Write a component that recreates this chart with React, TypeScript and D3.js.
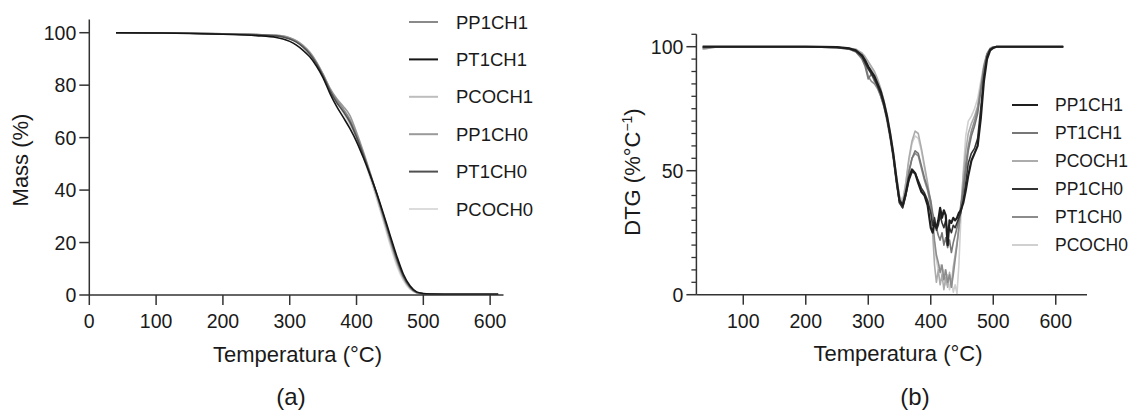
import React from "react";
import * as d3 from "d3";

// ---------- DATA ----------
const seriesNames = ["PP1CH1", "PT1CH1", "PCOCH1", "PP1CH0", "PT1CH0", "PCOCH0"];

// TGA (a)
const tgaTemps = [40, 100, 150, 200, 250, 280, 290, 300, 310, 320, 330, 340, 350, 360, 370, 380, 390, 400, 410, 420, 430, 440, 450, 460, 470, 480, 490, 500, 510, 550, 612];
const tgaPP1CH1 = [100, 99.9, 99.8, 99.6, 99.3, 98.9, 98.5, 97.8, 96.6, 94.8, 92.2, 88.5, 83.8, 78.5, 74.5, 71.0, 67.0, 61.0, 54.0, 46.5, 38.5, 30.0, 21.5, 13.5, 7.0, 3.0, 1.0, 0.5, 0.4, 0.3, 0.3];
const tgaPT1CH1 = [100, 99.9, 99.7, 99.4, 98.9, 98.2, 97.6, 96.7, 95.3, 93.3, 90.8, 87.3, 82.8, 77.0, 72.0, 67.8, 63.5, 58.5, 52.5, 46.0, 39.0, 31.2, 23.0, 15.0, 8.0, 3.5, 1.2, 0.6, 0.4, 0.3, 0.3];
const tgaPCOCH1 = [100, 99.9, 99.8, 99.6, 99.3, 99.0, 98.7, 98.0, 96.9, 95.0, 92.4, 88.7, 84.0, 78.6, 74.2, 70.0, 65.5, 60.0, 53.0, 45.5, 37.5, 29.0, 20.3, 12.3, 6.2, 2.5, 0.9, 0.4, 0.3, 0.3, 0.3];
const tgaPP1CH0 = [100, 99.9, 99.8, 99.6, 99.3, 99.0, 98.7, 98.1, 97.0, 95.2, 92.6, 88.9, 84.2, 79.0, 75.0, 72.0, 68.5, 62.0, 54.8, 47.0, 38.8, 30.2, 21.5, 13.3, 6.8, 2.8, 0.9, 0.5, 0.4, 0.3, 0.3];
const tgaPT1CH0 = [100, 99.9, 99.8, 99.5, 99.2, 98.8, 98.4, 97.6, 96.4, 94.5, 91.9, 88.2, 83.5, 78.0, 73.5, 70.0, 66.0, 60.2, 53.6, 46.3, 38.7, 30.6, 22.2, 14.0, 7.3, 3.1, 1.0, 0.5, 0.4, 0.3, 0.3];
const tgaPCOCH0 = [100, 99.9, 99.8, 99.6, 99.3, 99.0, 98.7, 98.0, 96.8, 94.9, 92.3, 88.6, 83.9, 78.3, 73.8, 69.5, 65.0, 59.5, 52.5, 45.0, 36.8, 28.2, 19.3, 11.3, 5.6, 2.2, 0.8, 0.4, 0.3, 0.3, 0.3];

// DTG (b)
const dtgTemps = [35, 60, 100, 150, 200, 250, 270, 280, 290, 295, 300, 305, 310, 315, 320, 325, 330, 335, 340, 345, 350, 355, 360, 365, 370, 375, 380, 385, 390, 395, 400, 403, 406, 409, 412, 415, 418, 421, 424, 427, 430, 433, 436, 439, 442, 445, 448, 452, 456, 460, 465, 470, 475, 480, 485, 490, 495, 500, 505, 510, 560, 612];
const dtgPP1CH1 = [100, 100, 100, 100, 100, 99.8, 99.3, 98.5, 96.5, 94.5, 92, 90, 88, 85, 82, 77.5, 72, 65, 57, 47, 38, 36, 41, 47, 50.5, 49, 45, 41.5, 40, 36, 27, 25, 29, 27, 30, 35, 31, 34, 32, 20, 30, 29, 31, 30, 31, 33, 34, 37, 42, 48, 54, 57, 60, 71, 86, 95, 98.5, 99.5, 100, 100, 100, 100];
const dtgPT1CH1 = [99.5, 100, 100, 100, 100, 99.6, 99, 98, 95, 92, 87, 89, 86, 84, 80, 76, 71, 64, 56, 46, 37, 35, 40, 49, 55, 58, 57, 52, 47, 43, 38, 33, 30, 27, 24, 22, 25, 20, 23, 19, 22, 17, 21, 24, 27, 30, 36, 42, 50, 58, 64, 68, 73, 82, 91, 97, 99, 99.8, 100, 100, 100, 100];
const dtgPCOCH1 = [99, 100, 100, 100, 100, 99.7, 99.4, 99, 97.5, 96, 94, 92, 90, 87, 83, 78, 72, 65, 57, 48, 39, 37, 45, 55, 62, 66, 65, 59, 52, 45, 37, 25, 12, 5, 10, 4, 8, 2, 7, 3, 9, 4, 11, 16, 21, 27, 35, 48, 58, 65, 69, 72, 76, 84, 92, 97, 99, 99.8, 100, 100, 100, 100];
const dtgPP1CH0 = [100, 100, 100, 100, 100, 99.8, 99.2, 98.3, 96, 93.5, 91, 89, 87, 84, 81, 76.5, 71, 64, 56, 46, 37, 35, 40, 46, 49.5, 49, 46, 43, 41, 38, 33, 28, 31, 26, 28, 32, 29, 27, 30, 24, 27, 25, 28, 27, 29, 31, 33, 38, 45, 53, 57, 59, 63, 75, 88, 96, 99, 99.6, 100, 100, 100, 100];
const dtgPT1CH0 = [99.5, 100, 100, 100, 100, 99.6, 99, 98, 95.5, 93, 88, 86, 85, 83, 80, 76, 70, 63, 55, 45, 37, 36, 42, 50, 55, 57, 56, 51, 46, 42, 36, 30, 22, 16, 13, 9, 12, 6, 10, 5, 8, 3, 8, 14, 20, 27, 34, 44, 53, 60, 66, 70, 75, 83, 92, 97, 99.3, 100, 100, 100, 100, 100];
const dtgPCOCH0 = [99, 100, 100, 100, 100, 99.7, 99.4, 99, 97, 95.5, 94, 91.5, 89, 86, 83, 78.5, 73, 66, 58, 48, 40, 38, 45, 54, 61, 64, 63, 58, 51, 44, 36, 28, 20, 14, 10, 12, 7, 10, 4, 8, 2, 6, 1, 4, 0.5, 12, 30, 50, 64, 70, 72, 75, 79, 86, 93, 97.5, 99.4, 100, 100, 100, 100, 100];

const tgaXTicks = [0, 100, 200, 300, 400, 500, 600];
const tgaYTicks = [0, 20, 40, 60, 80, 100];
const dtgXTicks = [100, 200, 300, 400, 500, 600];
const dtgYTicks = [0, 50, 100];
const dtgYMinor = [5, 10, 15, 20, 25, 30, 35, 40, 45, 55, 60, 65, 70, 75, 80, 85, 90, 95, 105];

const tgaColors = ["#8a8a8a", "#151515", "#bdbdbd", "#9a9a9a", "#505050", "#dcdcdc"];
const dtgColors = ["#1e1e1e", "#777777", "#acacac", "#333333", "#8c8c8c", "#d0d0d0"];

// ---------- RENDER ----------
const FONT = "'Liberation Sans', Arial, Helvetica, sans-serif";
const AX = "#333";
const TXT = "#1a1a1a";

export default function App() {
  const xA = d3.scaleLinear().domain([0, 620]).range([89.3, 503.5]);
  const yA = d3.scaleLinear().domain([0, 105]).range([295, 19.6]);
  const xB = d3.scaleLinear().domain([25, 650]).range([696.4, 1087]);
  const yB = d3.scaleLinear().domain([0, 105]).range([294.7, 34.3]);

  const tgaSeries = [tgaPP1CH1, tgaPT1CH1, tgaPCOCH1, tgaPP1CH0, tgaPT1CH0, tgaPCOCH0];
  const dtgSeries = [dtgPP1CH1, dtgPT1CH1, dtgPCOCH1, dtgPP1CH0, dtgPT1CH0, dtgPCOCH0];

  const lineA = d3
    .line<[number, number]>()
    .x((d) => xA(d[0]))
    .y((d) => yA(d[1]))
    .curve(d3.curveMonotoneX);
  const lineB = d3
    .line<[number, number]>()
    .x((d) => xB(d[0]))
    .y((d) => yB(d[1]))
    .curve(d3.curveLinear);

  const tgaDrawOrder = [5, 2, 3, 0, 4, 1];
  const dtgDrawOrder = [5, 2, 4, 1, 3, 0];

  return (
    <svg
      width={1130}
      height={415}
      style={{ position: "absolute", left: 0, top: 0, background: "#fff" }}
      fontFamily={FONT}
    >
      <rect x={0} y={0} width={1130} height={415} fill="#fff" />

      {/* ===== Chart (a) ===== */}
      <g>
        {tgaDrawOrder.map((i) => (
          <path
            key={"a" + i}
            d={lineA(tgaTemps.map((t, k) => [t, tgaSeries[i][k]] as [number, number])) || ""}
            fill="none"
            stroke={tgaColors[i]}
            strokeWidth={1.6}
          />
        ))}
        <line x1={xA(0)} x2={xA(0)} y1={yA(105)} y2={yA(0)} stroke={AX} strokeWidth={1.5} />
        <line x1={xA(0)} x2={xA(620)} y1={yA(0)} y2={yA(0)} stroke={AX} strokeWidth={1.5} />
        {tgaYTicks.map((v) => (
          <g key={"ay" + v}>
            <line x1={xA(0) - 10} x2={xA(0)} y1={yA(v)} y2={yA(v)} stroke={AX} strokeWidth={1.5} />
            <text x={xA(0) - 13} y={yA(v)} textAnchor="end" dominantBaseline="central" fontSize={19.5} fill={TXT}>
              {v}
            </text>
          </g>
        ))}
        {tgaXTicks.map((v) => (
          <g key={"ax" + v}>
            <line x1={xA(v)} x2={xA(v)} y1={yA(0)} y2={yA(0) + 10} stroke={AX} strokeWidth={1.5} />
            <text x={xA(v)} y={328} textAnchor="middle" fontSize={19.5} fill={TXT}>
              {v}
            </text>
          </g>
        ))}
        <text transform={`translate(28,160) rotate(-90)`} textAnchor="middle" fontSize={22} fill={TXT}>
          Mass (%)
        </text>
        <text x={297.5} y={362} textAnchor="middle" fontSize={22} fill={TXT}>
          Temperatura (°C)
        </text>
        <text x={291} y={405} textAnchor="middle" fontSize={24} fill={TXT}>
          (a)
        </text>
        {seriesNames.map((n, i) => {
          const cy = 22 + i * 37.4;
          return (
            <g key={"la" + n}>
              <line x1={409} x2={438} y1={cy} y2={cy} stroke={tgaColors[i]} strokeWidth={2} />
              <text x={456} y={cy} dominantBaseline="central" fontSize={18.5} fill={TXT}>
                {n}
              </text>
            </g>
          );
        })}
      </g>

      {/* ===== Chart (b) ===== */}
      <g>
        {dtgDrawOrder.map((i) => (
          <path
            key={"b" + i}
            d={lineB(dtgTemps.map((t, k) => [t, dtgSeries[i][k]] as [number, number])) || ""}
            fill="none"
            stroke={dtgColors[i]}
            strokeWidth={i === 0 ? 2.2 : 1.6}
            strokeLinejoin="round"
          />
        ))}
        <line x1={xB(25)} x2={xB(25)} y1={yB(105)} y2={yB(0)} stroke={AX} strokeWidth={1.5} />
        <line x1={xB(25)} x2={xB(650)} y1={yB(0)} y2={yB(0)} stroke={AX} strokeWidth={1.5} />
        {dtgYMinor.map((v) => (
          <line key={"bm" + v} x1={xB(25) - 5} x2={xB(25)} y1={yB(v)} y2={yB(v)} stroke={AX} strokeWidth={1.3} />
        ))}
        {dtgYTicks.map((v) => (
          <g key={"by" + v}>
            <line x1={xB(25) - 10} x2={xB(25)} y1={yB(v)} y2={yB(v)} stroke={AX} strokeWidth={1.5} />
            <text x={xB(25) - 13} y={yB(v)} textAnchor="end" dominantBaseline="central" fontSize={19.5} fill={TXT}>
              {v}
            </text>
          </g>
        ))}
        {dtgXTicks.map((v) => (
          <g key={"bx" + v}>
            <line x1={xB(v)} x2={xB(v)} y1={yB(0)} y2={yB(0) + 10} stroke={AX} strokeWidth={1.5} />
            <text x={xB(v)} y={328} textAnchor="middle" fontSize={19.5} fill={TXT}>
              {v}
            </text>
          </g>
        ))}
        <text transform={`translate(640,172) rotate(-90)`} textAnchor="middle" fontSize={22} fill={TXT}>
          DTG (%°C
          <tspan fontSize={14} dy={-8}>−1</tspan>
          <tspan dy={8}>)</tspan>
        </text>
        <text x={898} y={361} textAnchor="middle" fontSize={22} fill={TXT}>
          Temperatura (°C)
        </text>
        <text x={915} y={405} textAnchor="middle" fontSize={24} fill={TXT}>
          (b)
        </text>
        {seriesNames.map((n, i) => {
          const cy = 105 + i * 28;
          return (
            <g key={"lb" + n}>
              <line x1={1012} x2={1038} y1={cy} y2={cy} stroke={dtgColors[i]} strokeWidth={2} />
              <text x={1055} y={cy} dominantBaseline="central" fontSize={17.5} fill={TXT}>
                {n}
              </text>
            </g>
          );
        })}
      </g>
    </svg>
  );
}
